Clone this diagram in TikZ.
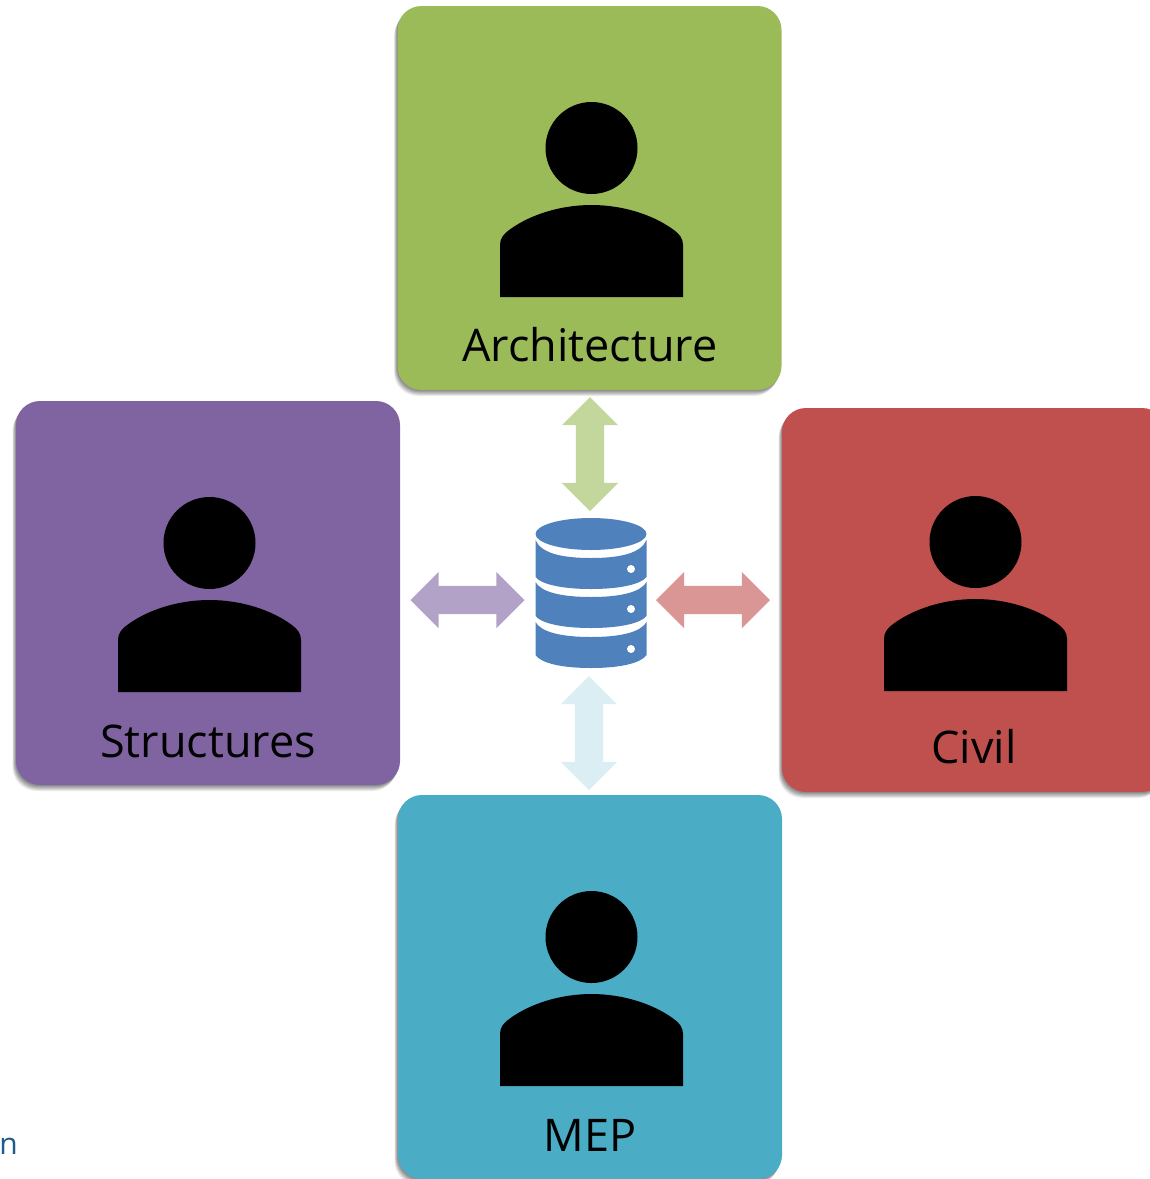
\documentclass[tikz,border=0pt]{standalone}
\usepackage{fontspec}
\setmainfont{Open Sans}
\usepackage{tikz}
\usetikzlibrary{shadows,shapes.arrows}
\definecolor{archgreen}{HTML}{9BBB59}
\definecolor{strpurple}{HTML}{8064A2}
\definecolor{civred}{HTML}{C0504D}
\definecolor{mepblue}{HTML}{4BACC6}
\definecolor{dbblue}{HTML}{4F81BD}
\definecolor{cutblue}{HTML}{1F5C8C}
\tikzset{
  card/.style={rectangle,rounded corners=24pt,minimum size=384pt,inner sep=0pt,
    drop shadow={shadow xshift=-.7pt,shadow yshift=-1.2pt,opacity=.12,fill=black},
    drop shadow={shadow xshift=-1.4pt,shadow yshift=-2.4pt,opacity=.12,fill=black},
    drop shadow={shadow xshift=-2.1pt,shadow yshift=-3.6pt,opacity=.12,fill=black},
    drop shadow={shadow xshift=-2.8pt,shadow yshift=-4.8pt,opacity=.1,fill=black},
    drop shadow={shadow xshift=-3.5pt,shadow yshift=-6pt,opacity=.08,fill=black}},
  flow/.style={double arrow,double arrow tip angle=90,double arrow head extend=14pt,
    minimum height=114pt,inner xsep=0pt,inner ysep=14pt,text height=0pt,text depth=0pt,text width=0pt},
  lbl/.style={font=\fontsize{45}{45}\selectfont,inner sep=0pt},
  person/.pic={
    \fill[black] (0,0) circle (46pt);
    \fill[black] (-91.5,149) -- (-91.5,97) .. controls (-91.5,90) and (-88,86) .. (-81,81)
      .. controls (-60,66) and (-30,57) .. (0,57)
      .. controls (30,57) and (60,66) .. (81,81)
      .. controls (88,86) and (91.5,90) .. (91.5,97) -- (91.5,149) -- cycle;
  },
  database/.pic={
    \fill[dbblue] (0,-59) ellipse [x radius=55.5pt,y radius=16pt];
    \foreach \a/\b/\c/\d in {-53/-35/-16/-4,-11/4/23/35,29/44/62/75}{
      \fill[dbblue] (-55.5,\a) .. controls (-50,\b-5) and (-30,\b) .. (0,\b)
        .. controls (30,\b) and (50,\b-5) .. (55.5,\a) -- (55.5,\c)
        .. controls (50,\d-5) and (30,\d) .. (0,\d)
        .. controls (-30,\d) and (-50,\d-5) .. (-55.5,\c) -- cycle;
    }
    \foreach \d in {-24,16,56}
      \fill[white] (40,\d) circle (4pt);
  }
}
\begin{document}
\begin{tikzpicture}[x=1pt,y=-1pt]
  \useasboundingbox (0,0) rectangle (1150,1179);
    \node (Arch) at (589.5,198) [card,fill=archgreen] {};
    \node (Str) at (208,593) [card,fill=strpurple] {};
    \node (Civ) at (974,600) [card,fill=civred] {};
    \node (MEP) at (590,987) [card,fill=mepblue] {};
    \pic (ArchP) at (591.5,148) {person};
    \pic (StrP) at (209.5,543) {person};
    \pic (CivP) at (975.5,542) {person};
    \pic (MEPP) at (591.5,937) {person};
    \node (ArchL) at (590,345) [lbl] {Architecture};
    \node (StrL) at (208,741) [lbl] {Structures};
    \node (CivL) at (974,747) [lbl] {Civil};
    \node (MEPL) at (590,1135) [lbl] {MEP};
    \pic (DB) at (591,593) {database};
    \node (ArchA) at (590,454) [flow,rotate=90,fill=archgreen!60!white] {};
    \node (StrA) at (467.5,600) [flow,fill=strpurple!60!white] {};
    \node (CivA) at (713,600) [flow,fill=civred!60!white] {};
    \node (MEPA) at (589,733) [flow,rotate=90,fill=mepblue!20!white] {};
    \node (Cut) at (8.5,1146) [inner sep=0pt,text=cutblue,font=\fontsize{30}{30}\selectfont] {n};
\end{tikzpicture}
\end{document}
